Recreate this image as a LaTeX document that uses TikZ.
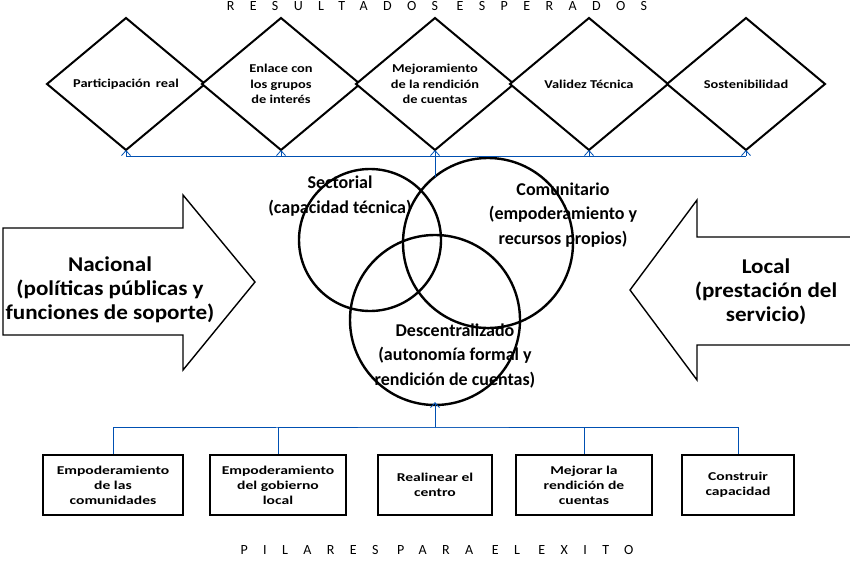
\documentclass[tikz,border=0pt]{standalone}
\usepackage{fontspec}
\setmainfont{Carlito}
\usetikzlibrary{arrows.meta}
\begin{document}
\begin{tikzpicture}[x=1pt,y=-1pt,
 dia/.style={draw,line width=2pt,fill=white},
 dt/.style={font=\addfontfeature{FakeStretch=1.2}\bfseries\fontsize{12}{15.5}\selectfont,align=center},
 bx/.style={draw,line width=2.2pt,font=\addfontfeature{FakeStretch=1.3}\bfseries\fontsize{12}{15}\selectfont,align=center},
 ct/.style={font=\bfseries\fontsize{18}{24.5}\selectfont,align=center},
 art/.style={font=\addfontfeature{FakeStretch=1.1}\bfseries\fontsize{21}{24}\selectfont,align=center},
 bl/.style={draw=blue!55!cyan!70!black,line width=0.8pt},
 ar/.style={-{Straight Barb[length=5pt,width=9pt]}},
 circ/.style={draw,line width=2.4pt}]
\useasboundingbox (0,0) rectangle (850,564);
\node[font=\fontsize{14}{16}\selectfont\addfontfeature{LetterSpace=110}] (t1) at (437,6) {RESULTADOS ESPERADOS};
\node[font=\fontsize{14}{16}\selectfont\addfontfeature{LetterSpace=110}] (t2) at (437,550) {PILARES PARA EL EXITO};
% diamonds
\foreach \n/\cx in {d1/126,d2/281,d3/435,d4/589,d5/746}{
 \draw[dia] (\cx-79,84) -- (\cx,18) -- (\cx+79,84) -- (\cx,150) -- cycle;
 \coordinate (\n) at (\cx,150);
 \coordinate (\n h) at (\cx,156);
}
\node[dt] (l1) at (126,84) {Participación\, real};
\node[dt] (l2) at (281,84) {Enlace con\\los grupos\\de interés};
\node[dt] (l3) at (435,84) {Mejoramiento\\de la rendición\\de cuentas};
\node[dt] (l4) at (589,84) {Validez Técnica};
\node[dt] (l5) at (746,84) {Sostenibilidad};
% circles
\node[circ,circle,minimum size=142pt,inner sep=0] (c1) at (370,240) {};
\node[circ,circle,minimum size=170pt,inner sep=0] (c2) at (488,243) {};
\node[circ,circle,minimum size=170pt,inner sep=0] (c3) at (435,320) {};
\node[ct] (s1) at (340,196) {Sectorial\\(capacidad técnica)};
\node[ct] (s2) at (563,215) {Comunitario\\(empoderamiento y\\recursos propios)};
\node[ct] (s3) at (455,356) {Descentralizado\\(autonomía formal y\\rendición de cuentas)};
% top connectors
\coordinate (ct) at (435,177);
\draw[bl] (d1h) -- (d5h);
\draw[bl] (d3h) -- (ct);
\foreach \n in {d1,d2,d3,d4,d5}{\draw[bl,ar] (\n h) -- (\n);}
% big arrows
\draw[line width=1.4pt] (3,228) -- (183,228) -- (183,195) -- (255,282) -- (183,370) -- (183,335) -- (3,335) -- cycle;
\draw[line width=1.4pt] (852,237) -- (697,237) -- (697,200) -- (630,290) -- (697,380) -- (697,345) -- (852,345);
\node[art] (na) at (110,290) {Nacional\\(políticas públicas y\\funciones de soporte)};
\node[art] (lo) at (766,292) {Local\\(prestación del\\servicio)};
% boxes
\node[bx,minimum width=140pt,minimum height=60pt] (b1) at (113,485) {Empoderamiento\\de las\\comunidades};
\node[bx,minimum width=136pt,minimum height=60pt] (b2) at (278,485) {Empoderamiento\\del gobierno\\local};
\node[bx,minimum width=114pt,minimum height=60pt] (b3) at (435,485) {Realinear el\\centro};
\node[bx,minimum width=136pt,minimum height=60pt] (b4) at (584,485) {Mejorar la\\rendición de\\cuentas};
\node[bx,minimum width=112pt,minimum height=60pt] (b5) at (738,485) {Construir\\capacidad};
\coordinate (cb) at (435,402);
\coordinate (hb) at (435,427);
\draw[bl,ar] (hb) -- (cb);
\draw[bl] (b1.north) |- (hb) -| (b5.north);
\draw[bl] (b2.north) |- (hb) -| (b4.north);
\end{tikzpicture}
\end{document}
